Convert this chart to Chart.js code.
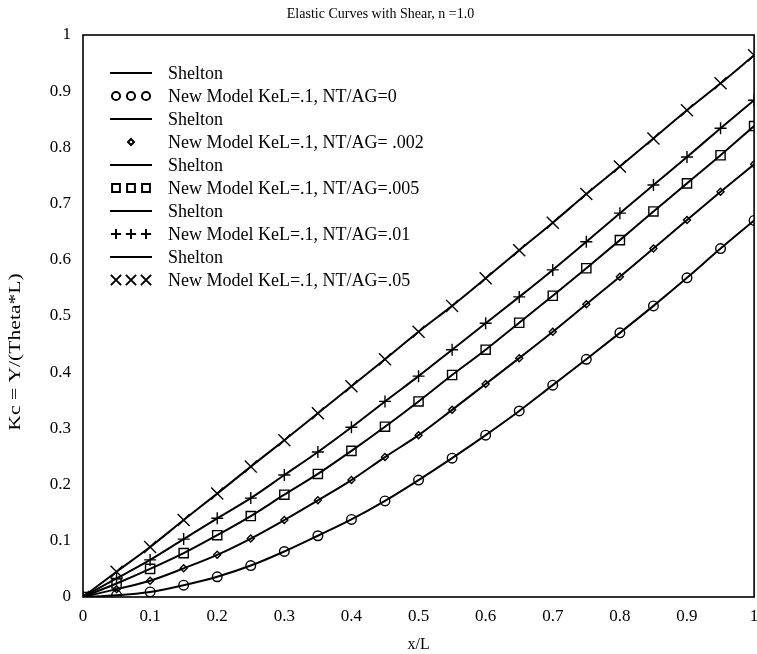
<!DOCTYPE html>
<html>
<head>
<meta charset="utf-8">
<script src="https://cdn.jsdelivr.net/npm/chart.js@4.4.1/dist/chart.umd.min.js"></script>
<style>
  html, body { margin: 0; padding: 0; background: #fff; overflow: hidden; }
  #chart { display: block; }
</style>
</head>
<body>
<canvas id="chart" width="764" height="654"></canvas>
<script>
// x/L positions of the New Model points
const xL = [0, 0.05, 0.1, 0.15, 0.2, 0.25, 0.3, 0.35, 0.4, 0.45, 0.5,
            0.55, 0.6, 0.65, 0.7, 0.75, 0.8, 0.85, 0.9, 0.95, 1];

// Kc values, one list per NT/AG
const kcNtag0    = [0, 0.003, 0.009, 0.021, 0.036, 0.056, 0.081, 0.109, 0.138, 0.171, 0.208,
                    0.247, 0.288, 0.331, 0.377, 0.423, 0.470, 0.518, 0.568, 0.620, 0.670];
const kcNtag002  = [0, 0.014, 0.029, 0.051, 0.075, 0.104, 0.137, 0.172, 0.208, 0.249, 0.288,
                    0.333, 0.379, 0.425, 0.472, 0.521, 0.570, 0.620, 0.671, 0.721, 0.770];
const kcNtag005  = [0, 0.024, 0.050, 0.078, 0.110, 0.144, 0.182, 0.219, 0.260, 0.303, 0.348,
                    0.395, 0.440, 0.488, 0.536, 0.585, 0.635, 0.686, 0.736, 0.786, 0.838];
const kcNtag01   = [0, 0.033, 0.066, 0.103, 0.140, 0.176, 0.217, 0.258, 0.302, 0.348, 0.393,
                    0.440, 0.487, 0.534, 0.582, 0.632, 0.683, 0.733, 0.783, 0.834, 0.884];
const kcNtag05   = [0, 0.045, 0.089, 0.137, 0.184, 0.232, 0.279, 0.327, 0.375, 0.423, 0.472,
                    0.518, 0.567, 0.617, 0.666, 0.717, 0.766, 0.816, 0.866, 0.914, 0.964];

const seriesLabels = ['New Model KeL=.1, NT/AG=0', 'New Model KeL=.1, NT/AG= .002',
                      'New Model KeL=.1, NT/AG=.005', 'New Model KeL=.1, NT/AG=.01',
                      'New Model KeL=.1, NT/AG=.05'];
const seriesValues = [kcNtag0, kcNtag002, kcNtag005, kcNtag01, kcNtag05];

const xTicks = [0, 0.1, 0.2, 0.3, 0.4, 0.5, 0.6, 0.7, 0.8, 0.9, 1];
const yTicks = [0, 0.1, 0.2, 0.3, 0.4, 0.5, 0.6, 0.7, 0.8, 0.9, 1];

const SERIF = '"Liberation Serif", "Times New Roman", serif';

// marker look per series
const markers = [
  { pointStyle: 'circle',   radius: 4.8 },
  { pointStyle: 'rectRot',  radius: 3.5 },
  { pointStyle: 'rect',     radius: 6.5 },
  { pointStyle: 'cross',    radius: 6 },
  { pointStyle: 'crossRot', radius: 8.5 }
];

const pts = vals => xL.map((x, i) => ({ x: x, y: vals[i] }));

const datasets = [];
seriesValues.forEach((vals, i) => {
  datasets.push({
    label: 'Shelton',
    data: pts(vals),
    showLine: true,
    borderColor: '#000',
    borderWidth: 2,
    pointRadius: 0,
    cubicInterpolationMode: 'monotone',
    order: 2
  });
  datasets.push({
    label: seriesLabels[i],
    data: pts(vals),
    showLine: false,
    pointStyle: markers[i].pointStyle,
    pointRadius: markers[i].radius,
    pointBorderWidth: 1.4,
    borderColor: '#000',
    backgroundColor: 'rgba(0,0,0,0)',
    order: 1
  });
});

// box round the plot
const frame = {
  id: 'frame',
  afterDatasetsDraw(chart) {
    const a = chart.chartArea, ctx = chart.ctx;
    ctx.save();
    ctx.strokeStyle = '#000';
    ctx.lineWidth = 1.6;
    ctx.strokeRect(a.left, a.top, a.right - a.left, a.bottom - a.top);
    ctx.restore();
  }
};

// y axis title, sits a bit below the middle of the axis as in the original
const yTitle = {
  id: 'yTitle',
  afterDraw(chart) {
    const ctx = chart.ctx;
    ctx.save();
    ctx.translate(16, 352);
    ctx.rotate(-Math.PI / 2);
    ctx.scale(1.35, 1);   // lettering in the scan runs wide
    ctx.font = '16px ' + SERIF;
    ctx.fillStyle = '#000';
    ctx.textAlign = 'center';
    ctx.textBaseline = 'middle';
    ctx.fillText('Kc = Y/(Theta*L)', 0, 0);
    ctx.restore();
  }
};

// legend inside the plot, top left
const boxLegend = {
  id: 'boxLegend',
  afterDraw(chart) {
    const ctx = chart.ctx;
    const lineX0 = 110, lineX1 = 152, textX = 168;
    let y = 73;
    const step = 23;
    ctx.save();
    ctx.font = '18px ' + SERIF;
    ctx.fillStyle = '#000';
    ctx.textBaseline = 'middle';
    seriesLabels.forEach((lab, i) => {
      ctx.strokeStyle = '#000';
      ctx.lineWidth = 2;
      ctx.beginPath();
      ctx.moveTo(lineX0, y);
      ctx.lineTo(lineX1, y);
      ctx.stroke();
      ctx.fillText('Shelton', textX, y + 1);
      y += step;
      const m = markers[i];
      const o = { pointStyle: m.pointStyle, radius: m.radius * 0.85, borderWidth: 1.4, rotation: 0 };
      ctx.strokeStyle = '#000';
      ctx.fillStyle = 'rgba(0,0,0,0)';
      const xs = i === 1 ? [131] : [116, 131, 146];
      xs.forEach(px => Chart.helpers.drawPoint(ctx, o, px, y));
      ctx.fillStyle = '#000';
      ctx.fillText(lab, textX, y + 1);
      y += step;
    });
    ctx.restore();
  }
};

const fmt = v => {
  const r = Math.round(v * 10) / 10;
  return String(r);
};

new Chart(document.getElementById('chart'), {
  type: 'scatter',
  data: { datasets: datasets },
  options: {
    responsive: false,
    animation: false,
    layout: { padding: { left: 0, right: 3, top: 0, bottom: 0 } },
    plugins: {
      legend: { display: false },
      tooltip: { enabled: false },
      title: {
        display: true,
        text: 'Elastic Curves with Shear, n =1.0',
        color: '#000',
        font: { family: SERIF, size: 14, weight: 'normal', lineHeight: 1.2 },
        padding: { top: 6, bottom: 12.2 }
      }
    },
    scales: {
      x: {
        type: 'linear',
        min: 0, max: 1,
        grid: { display: false, drawTicks: false },
        border: { display: false },
        afterBuildTicks: s => { s.ticks = xTicks.map(v => ({ value: v })); },
        afterFit: s => { s.height = 57; s.paddingLeft = 0; s.paddingRight = 0; },
        ticks: {
          color: '#000', padding: 9, maxRotation: 0, autoSkip: false,
          font: { family: SERIF, size: 17 },
          callback: fmt
        },
        title: {
          display: true, text: 'x/L', color: '#000', padding: { top: 2, bottom: 0 },
          font: { family: SERIF, size: 16 }
        }
      },
      y: {
        type: 'linear',
        min: 0, max: 1,
        grid: { display: false, drawTicks: false },
        border: { display: false },
        afterBuildTicks: s => { s.ticks = yTicks.map(v => ({ value: v })); },
        afterFit: s => { s.width = 83; s.paddingTop = 0; s.paddingBottom = 0; },
        ticks: {
          color: '#000', padding: 12, autoSkip: false,
          font: { family: SERIF, size: 17 },
          callback: fmt
        }
      }
    }
  },
  plugins: [frame, boxLegend, yTitle]
});
</script>
</body>
</html>
